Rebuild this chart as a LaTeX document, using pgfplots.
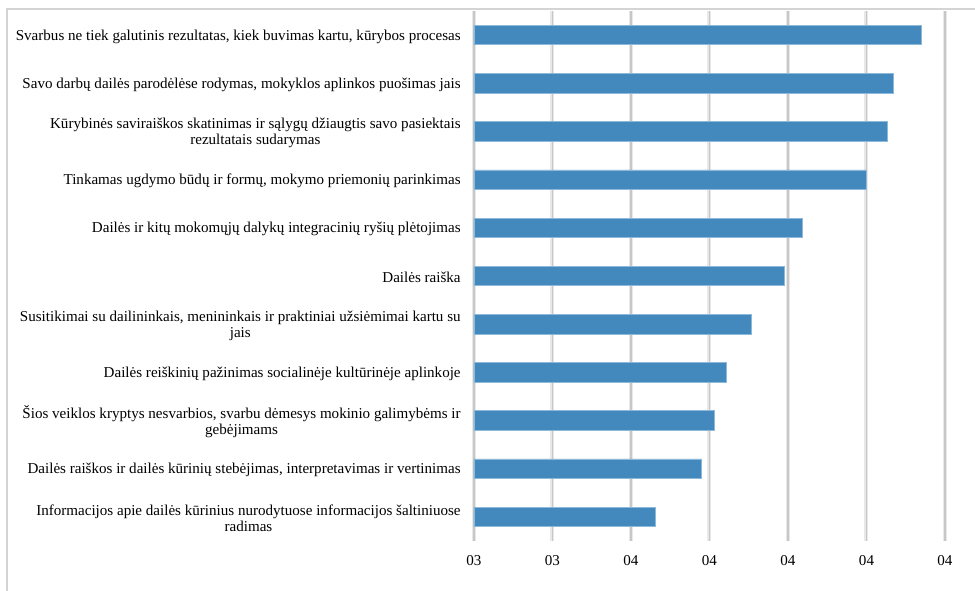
\documentclass[border=0pt]{standalone}
\usepackage{pgfplots}
\pgfplotsset{compat=1.18}
\usepackage{fontspec}
\setmainfont{Liberation Serif}
\definecolor{barblue}{RGB}{67,137,190}
\definecolor{baredge}{RGB}{140,184,218}
\definecolor{framegray}{RGB}{212,212,212}
\begin{document}
\begin{tikzpicture}[x=0.75pt,y=0.75pt]
\useasboundingbox (0,0) rectangle (975,591);
\draw[framegray, line width=1.6pt] (7,-20) -- (7,582) -- (1000,582);
\begin{axis}[
  at={(474*0.75pt,50*0.75pt)}, anchor=south west,
  scale only axis, width=353.25pt, height=397.5pt,
  xmin=3.3, xmax=3.9, ymin=-0.5, ymax=10.5, y dir=reverse,
  xtick={3.3,3.4,3.5,3.6,3.7,3.8,3.9},
  xticklabels={03,03,04,04,04,04,04},
  ytick={0,1,2,3,4,5,6,7,8,9,10},
  yticklabels={
    {Svarbus ne tiek galutinis rezultatas, kiek buvimas kartu, kūrybos procesas},
    {Savo darbų dailės parodėlėse rodymas, mokyklos aplinkos puošimas jais},
    {Kūrybinės saviraiškos skatinimas ir sąlygų džiaugtis savo pasiektais\\rezultatais sudarymas},
    {Tinkamas ugdymo būdų ir formų, mokymo priemonių parinkimas},
    {Dailės ir kitų mokomųjų dalykų integracinių ryšių plėtojimas},
    {Dailės raiška},
    {Susitikimai su dailininkais, menininkais ir praktiniai užsiėmimai kartu su\\jais},
    {Dailės reiškinių pažinimas socialinėje kultūrinėje aplinkoje},
    {Šios veiklos kryptys nesvarbios, svarbu dėmesys mokinio galimybėms ir\\gebėjimams},
    {Dailės raiškos ir dailės kūrinių stebėjimas, interpretavimas ir vertinimas},
    {Informacijos apie dailės kūrinius nurodytuose informacijos šaltiniuose\\radimas}},
  axis line style={draw=none},
  major tick length=0pt,
  xmajorgrids,
  major grid style={line width=1.3pt, draw=black!22, preaction={draw=black!9, line width=3pt}},
  tick label style={font=\fontsize{11.3}{12.2}\selectfont},
  yticklabel style={align=center, xshift=-6.5pt, yshift=-1pt},
  xticklabel style={yshift=-7pt},
  /pgf/number format/assume math mode=true,
  xbar, bar width=14.6pt,
]
\addplot[fill=barblue, draw=baredge, line width=0.6pt] coordinates {
 (3.870,0) (3.834,1) (3.827,2) (3.800,3) (3.718,4) (3.696,5)
 (3.654,6) (3.621,7) (3.606,8) (3.590,9) (3.531,10)};
\end{axis}
\end{tikzpicture}
\end{document}
